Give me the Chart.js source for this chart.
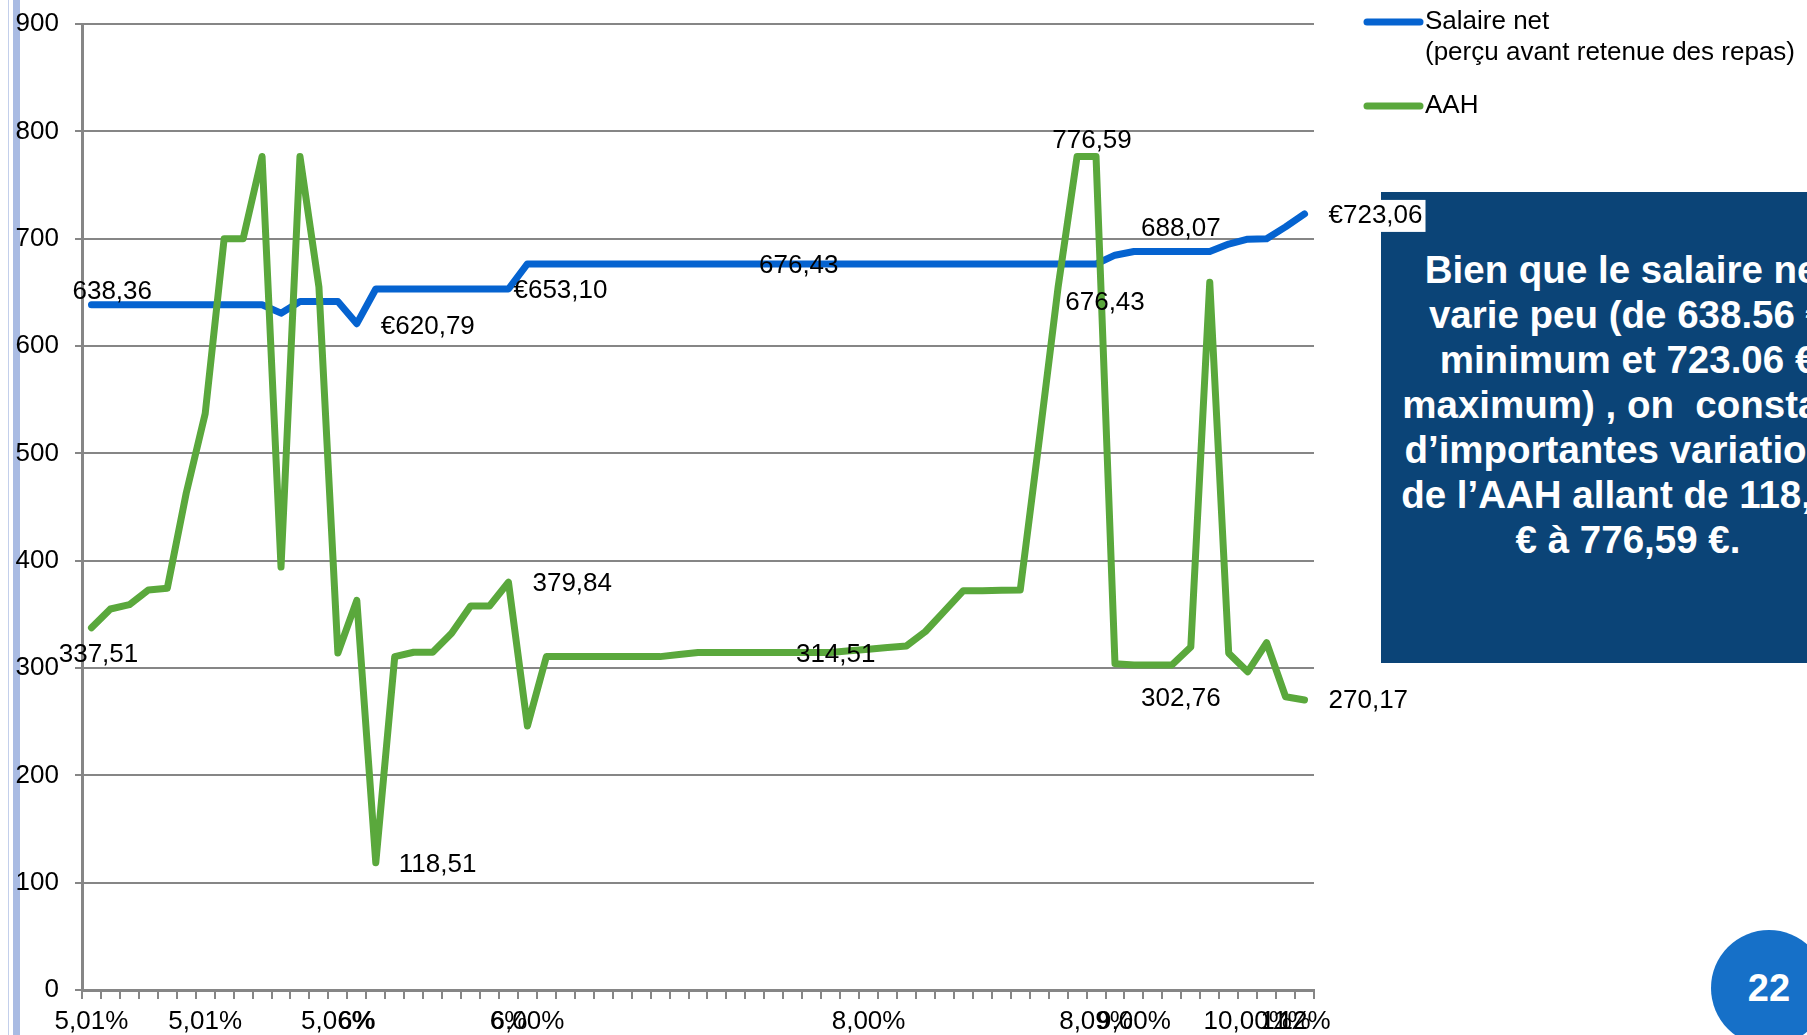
<!DOCTYPE html>
<html>
<head>
<meta charset="utf-8">
<script src="https://cdn.jsdelivr.net/npm/chart.js@4.4.1/dist/chart.umd.min.js"></script>
<style>
  html, body { margin: 0; padding: 0; background: #fff; overflow: hidden; }
  body { width: 1807px; height: 1035px; position: relative; font-family: "Liberation Sans", Arial, sans-serif; }
  .stripe-thin { position: absolute; left: 8px; top: 0; width: 1px; height: 1035px; background: #c3cfeb; }
  .stripe { position: absolute; left: 13px; top: 0; width: 7px; height: 1035px; background: #a9bbe3; }
  #note {
    position: absolute; left: 1381px; top: 192px; width: 494px; height: 471px;
    background: #0b4477; color: #fff; font-weight: bold; font-size: 38.5px; line-height: 45px;
    text-align: center; white-space: pre; padding-top: 55px; box-sizing: border-box; z-index: 1;
  }
  #wrap { position: absolute; left: 0; top: 0; width: 1807px; height: 1035px; z-index: 2; }
  #page {
    position: absolute; left: 1711px; top: 930px; width: 116px; height: 116px; border-radius: 50%;
    background: #1670c8; color: #fff; font-weight: bold; font-size: 38px; line-height: 116px;
    text-align: center; z-index: 3;
  }
</style>
</head>
<body>
<div class="stripe-thin"></div>
<div class="stripe"></div>
<div id="note">Bien que le salaire net
varie peu (de 638.56 €
minimum et 723.06 €
maximum) , on  constate
d’importantes variations
de l’AAH allant de 118,51
€ à 776,59 €.</div>
<div id="wrap"><canvas id="lineChart"></canvas></div>
<div id="page">22</div>
<script>
// Category axis labels (most categories have no visible label)
const tickLabels = [
  '5,01%', '', '', '', '', '', '5,01%', '', '', '', '',
  '', '', '5,06%', '6%', '', '', '', '', '', '', '',
  '6%', '6,00%', '', '', '', '', '', '', '', '', '',
  '', '', '', '', '', '', '', '', '8,00%', '', '',
  '', '', '', '', '', '', '', '', '', '8,09%', '',
  '9,00%', '', '', '', '', '', '10,00%', '', '11%', '12%'
];

// Salaire net (perçu avant retenue des repas)
const salaireNet = [
  638.36, 638.36, 638.36, 638.36, 638.36, 638.36, 638.36, 638.36, 638.36, 638.36,
  630.6, 641.4, 641.4, 641.4, 620.79, 653.10, 653.10, 653.10, 653.10, 653.10,
  653.10, 653.10, 653.10, 676.43, 676.43, 676.43, 676.43, 676.43, 676.43, 676.43,
  676.43, 676.43, 676.43, 676.43, 676.43, 676.43, 676.43, 676.43, 676.43, 676.43,
  676.43, 676.43, 676.43, 676.43, 676.43, 676.43, 676.43, 676.43, 676.43, 676.43,
  676.43, 676.43, 676.43, 676.43, 684.6, 688.07, 688.07, 688.07, 688.07, 688.07,
  695, 699.5, 700, 711, 723.06
];

// AAH
const aah = [
  337.51, 355, 359, 372.7, 374.3, 463, 537, 700, 700, 776.59,
  394, 776.59, 655, 314, 363, 118.51, 310.6, 314.7, 314.7, 332.4,
  357.8, 357.8, 379.84, 246, 310.6, 310.6, 310.6, 310.6, 310.6, 310.6,
  310.6, 312.5, 314.51, 314.51, 314.51, 314.51, 314.51, 314.51, 314.51, 314.51,
  316, 317.5, 319, 320.6, 334, 353, 372, 372, 372.5, 372.6,
  512, 655, 776.59, 776.59, 304, 302.76, 302.76, 302.76, 319.6, 659.5,
  313.8, 296.4, 323.5, 273.2, 270.17
];

const seriesNames = [['Salaire net', '(perçu avant retenue des repas)'], ['AAH']];
const seriesColors = ['#0563d0', '#5aa83c'];

// which points carry a value label
const valueLabels = [
  { ds: 0, i: 0, prefix: '', align: 'left', dx: -19, dy: -13 },
  { ds: 0, i: 14, prefix: '€', align: 'left', dx: 24, dy: 3 },
  { ds: 0, i: 22, prefix: '€', align: 'left', dx: 5, dy: 2 },
  { ds: 0, i: 37, prefix: '', align: 'center', dx: 6, dy: 2 },
  { ds: 0, i: 53, prefix: '', align: 'center', dx: 9, dy: 39 },
  { ds: 0, i: 57, prefix: '', align: 'center', dx: 9, dy: -23 },
  { ds: 0, i: 64, prefix: '€', align: 'left', dx: 24, dy: 2, bg: true },
  { ds: 1, i: 0, prefix: '', align: 'center', dx: 7, dy: 27 },
  { ds: 1, i: 15, prefix: '', align: 'left', dx: 23, dy: 2 },
  { ds: 1, i: 22, prefix: '', align: 'left', dx: 24, dy: 2 },
  { ds: 1, i: 39, prefix: '', align: 'center', dx: 5, dy: 2 },
  { ds: 1, i: 53, prefix: '', align: 'center', dx: -4, dy: -16 },
  { ds: 1, i: 57, prefix: '', align: 'center', dx: 9, dy: 34 },
  { ds: 1, i: 64, prefix: '', align: 'left', dx: 24, dy: 1 }
];

const FONT = '"Liberation Sans", Arial, sans-serif';

// value labels drawn at the points the chart computed
const labelPlugin = {
  id: 'valueLabels',
  afterDatasetsDraw(chart) {
    const ctx = chart.ctx;
    ctx.save();
    ctx.font = '26px ' + FONT;
    ctx.textBaseline = 'middle';
    valueLabels.forEach(l => {
      const pt = chart.getDatasetMeta(l.ds).data[l.i];
      const v = chart.data.datasets[l.ds].data[l.i];
      const txt = l.prefix + v.toFixed(2).replace('.', ',');
      const w = ctx.measureText(txt).width;
      const x = l.align === 'left' ? pt.x + l.dx : pt.x + l.dx - w / 2;
      const y = pt.y + l.dy;
      if (l.bg) {
        ctx.fillStyle = '#fff';
        ctx.fillRect(x - 3, y - 16, w + 6, 32);
      }
      ctx.fillStyle = '#000';
      ctx.fillText(txt, x, y);
    });
    ctx.restore();
  }
};

// legend at the top right, line samples like the original
const legendPlugin = {
  id: 'sideLegend',
  afterDraw(chart) {
    const ctx = chart.ctx;
    const rows = [22, 106];
    ctx.save();
    ctx.font = '26px ' + FONT;
    ctx.textBaseline = 'middle';
    chart.data.datasets.forEach((ds, k) => {
      const y = rows[k];
      ctx.strokeStyle = ds.borderColor;
      ctx.lineWidth = 7;
      ctx.lineCap = 'round';
      ctx.beginPath();
      ctx.moveTo(1367, y);
      ctx.lineTo(1420, y);
      ctx.stroke();
      ctx.fillStyle = '#000';
      seriesNames[k].forEach((t, j) => ctx.fillText(t, 1425, y + j * 31));
    });
    ctx.restore();
  }
};

const ctx = document.getElementById('lineChart').getContext('2d');

const data = {
  labels: tickLabels,
  datasets: [{
    label: seriesNames[0].join(' '),
    data: salaireNet,
    borderColor: seriesColors[0],
    backgroundColor: seriesColors[0],
    borderWidth: 7,
    pointRadius: 0,
    tension: 0,
    borderCapStyle: 'round',
    borderJoinStyle: 'round',
    order: 1
  }, {
    label: seriesNames[1].join(' '),
    data: aah,
    borderColor: seriesColors[1],
    backgroundColor: seriesColors[1],
    borderWidth: 7,
    pointRadius: 0,
    tension: 0,
    borderCapStyle: 'round',
    borderJoinStyle: 'round',
    order: 0
  }]
};

const options = {
  responsive: true,
  maintainAspectRatio: false,
  animation: false,
  devicePixelRatio: 1,
  layout: { padding: { left: 0, top: 24, right: 493, bottom: 0 } },
  plugins: { legend: { display: false }, tooltip: { enabled: false } },
  scales: {
    x: {
      type: 'category',
      offset: true,
      grid: { display: true, drawOnChartArea: false, drawTicks: true, tickLength: 9, color: '#868686', lineWidth: 2, offset: true },
      border: { display: true, color: '#868686', width: 3 },
      ticks: { autoSkip: false, maxRotation: 0, minRotation: 0, padding: 7, color: '#000', font: { family: FONT, size: 26 } },
      afterFit: s => { s.height = 45; }
    },
    y: {
      min: 0,
      max: 900,
      ticks: { stepSize: 100, padding: 16, color: '#000', font: { family: FONT, size: 26 } },
      grid: { color: '#868686', lineWidth: 2, tickLength: 7 },
      border: { display: true, color: '#868686', width: 3 },
      afterFit: s => { s.width = 82; s.paddingTop = 0; s.paddingBottom = 0; }
    }
  }
};

const myChart = new Chart(ctx, {
  type: 'line',
  data: data,
  options: options,
  plugins: [labelPlugin, legendPlugin]
});
</script>
</body>
</html>
